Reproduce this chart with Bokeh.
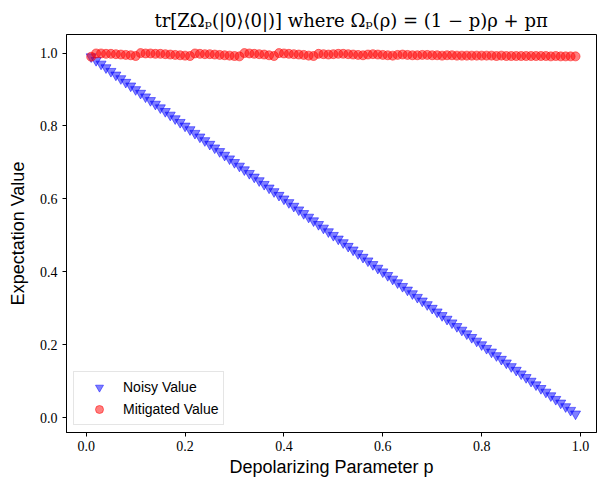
from bokeh.plotting import figure
from bokeh.models import Range1d, FixedTicker, Legend, LegendItem, Title
from bokeh.embed import file_html
from bokeh.resources import INLINE

# ---- data ----
p_values = [0.01, 0.02, 0.03, 0.04, 0.05, 0.06, 0.07, 0.08, 0.09, 0.10,
            0.11, 0.12, 0.13, 0.14, 0.15, 0.16, 0.17, 0.18, 0.19, 0.20,
            0.21, 0.22, 0.23, 0.24, 0.25, 0.26, 0.27, 0.28, 0.29, 0.30,
            0.31, 0.32, 0.33, 0.34, 0.35, 0.36, 0.37, 0.38, 0.39, 0.40,
            0.41, 0.42, 0.43, 0.44, 0.45, 0.46, 0.47, 0.48, 0.49, 0.50,
            0.51, 0.52, 0.53, 0.54, 0.55, 0.56, 0.57, 0.58, 0.59, 0.60,
            0.61, 0.62, 0.63, 0.64, 0.65, 0.66, 0.67, 0.68, 0.69, 0.70,
            0.71, 0.72, 0.73, 0.74, 0.75, 0.76, 0.77, 0.78, 0.79, 0.80,
            0.81, 0.82, 0.83, 0.84, 0.85, 0.86, 0.87, 0.88, 0.89, 0.90,
            0.91, 0.92, 0.93, 0.94, 0.95, 0.96, 0.97, 0.98, 0.99]

noisy_values = [0.99, 0.98, 0.97, 0.96, 0.95, 0.94, 0.93, 0.92, 0.91, 0.90,
                0.89, 0.88, 0.87, 0.86, 0.85, 0.84, 0.83, 0.82, 0.81, 0.80,
                0.79, 0.78, 0.77, 0.76, 0.75, 0.74, 0.73, 0.72, 0.71, 0.70,
                0.69, 0.68, 0.67, 0.66, 0.65, 0.64, 0.63, 0.62, 0.61, 0.60,
                0.59, 0.58, 0.57, 0.56, 0.55, 0.54, 0.53, 0.52, 0.51, 0.50,
                0.49, 0.48, 0.47, 0.46, 0.45, 0.44, 0.43, 0.42, 0.41, 0.40,
                0.39, 0.38, 0.37, 0.36, 0.35, 0.34, 0.33, 0.32, 0.31, 0.30,
                0.29, 0.28, 0.27, 0.26, 0.25, 0.24, 0.23, 0.22, 0.21, 0.20,
                0.19, 0.18, 0.17, 0.16, 0.15, 0.14, 0.13, 0.12, 0.11, 0.10,
                0.09, 0.08, 0.07, 0.06, 0.05, 0.04, 0.03, 0.02, 0.01]

mitigated_values = [0.990, 0.999, 0.999, 0.998, 0.998, 0.997, 0.996, 0.995, 0.994, 0.992,
                    1.000, 0.999, 0.999, 0.998, 0.998, 0.997, 0.996, 0.995, 0.994, 0.993,
                    0.992, 0.999, 0.998, 0.997, 0.997, 0.996, 0.995, 0.994, 0.993, 0.992,
                    0.991, 1.000, 0.999, 0.998, 0.997, 0.996, 0.994, 0.992, 1.000, 0.999,
                    0.998, 0.997, 0.996, 0.995, 0.993, 0.992, 0.998, 0.997, 0.996, 0.997,
                    0.998, 0.998, 0.997, 0.996, 0.995, 0.994, 0.996, 0.997, 0.996, 0.995,
                    0.994, 0.993, 0.995, 0.996, 0.995, 0.994, 0.994, 0.995, 0.995, 0.994,
                    0.994, 0.993, 0.994, 0.994, 0.993, 0.993, 0.993, 0.993, 0.993, 0.993,
                    0.993, 0.993, 0.992, 0.993, 0.992, 0.992, 0.992, 0.992, 0.992, 0.992,
                    0.992, 0.992, 0.992, 0.991, 0.992, 0.991, 0.991, 0.991, 0.991]

x_ticks = [0.0, 0.2, 0.4, 0.6, 0.8, 1.0]
x_tick_labels = ["0.0", "0.2", "0.4", "0.6", "0.8", "1.0"]
y_ticks = [0.0, 0.2, 0.4, 0.6, 0.8, 1.0]
y_tick_labels = ["0.0", "0.2", "0.4", "0.6", "0.8", "1.0"]

title_text = "tr[ZΩₚ(|0⟩⟨0|)] where Ωₚ(ρ) = (1 − p)ρ + pπ"
x_label = "Depolarizing Parameter p"
y_label = "Expectation Value"
series_names = ["Noisy Value", "Mitigated Value"]

# ---- figure ----
p = figure(width=597, height=480, output_backend="svg", toolbar_location=None,
           x_range=Range1d(-0.0399, 1.0324), y_range=Range1d(-0.041, 1.051),
           min_border_left=66, min_border_right=1, min_border_top=34,
           min_border_bottom=48)

p.title = Title(text=title_text, align="left", offset=88,
                text_font="DejaVu Serif", text_font_size="18px",
                text_font_style="normal", text_color="black", standoff=7)

p.xgrid.visible = False
p.ygrid.visible = False
p.outline_line_color = "black"
p.outline_line_width = 1
p.outline_line_alpha = 1
p.background_fill_color = "white"
p.border_fill_color = "white"

for ax, ticks, labels, lab in ((p.xaxis[0], x_ticks, x_tick_labels, x_label),
                               (p.yaxis[0], y_ticks, y_tick_labels, y_label)):
    ax.ticker = FixedTicker(ticks=ticks)
    ax.major_label_overrides = {t: l for t, l in zip(ticks, labels)}
    ax.minor_tick_line_color = None
    ax.major_tick_in = 0
    ax.major_tick_out = 4
    ax.major_tick_line_color = "black"
    ax.axis_line_color = "black"
    ax.major_label_text_font = "Liberation Serif"
    ax.major_label_text_font_size = "14px"
    ax.major_label_text_color = "black"
    ax.axis_label = lab
    ax.axis_label_text_font = "Liberation Sans"
    ax.axis_label_text_font_size = "18px"
    ax.axis_label_text_font_style = "normal"
    ax.axis_label_text_color = "black"

p.xaxis.major_label_standoff = 4
p.xaxis.axis_label_standoff = 3
p.yaxis.major_label_standoff = 5
p.yaxis.axis_label_standoff = 9

r_noisy = p.scatter(p_values, noisy_values, marker="inverted_triangle", size=10,
                    fill_color="blue", line_color="blue", fill_alpha=0.5, line_alpha=0.5)
r_mit = p.scatter(p_values, mitigated_values, marker="circle", size=9,
                  fill_color="red", line_color="red", fill_alpha=0.5, line_alpha=0.5)

legend = Legend(items=[LegendItem(label=series_names[0], renderers=[r_noisy]),
                       LegendItem(label=series_names[1], renderers=[r_mit])],
                location="bottom_left", margin=7, padding=5, spacing=2,
                glyph_width=40, glyph_height=20, label_height=20,
                label_standoff=4, label_text_font="Liberation Sans",
                label_text_font_size="14px", label_text_color="black",
                border_line_color="#cccccc", border_line_width=1,
                background_fill_color="white", background_fill_alpha=0.8)
p.add_layout(legend)

open("out.html", "w").write(file_html(p, INLINE))
